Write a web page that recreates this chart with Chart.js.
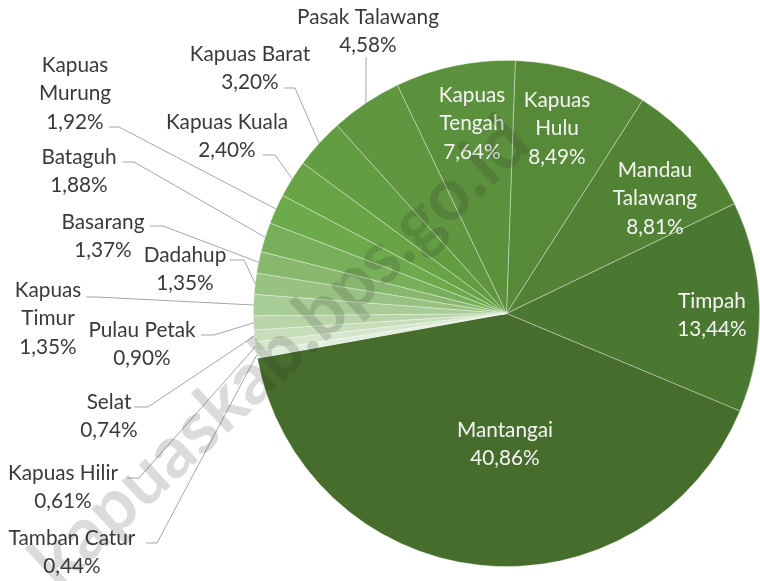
<!DOCTYPE html>
<html>
<head>
<meta charset="utf-8">
<script src="https://cdn.jsdelivr.net/npm/chart.js@4.4.1/dist/chart.umd.min.js"></script>
<style>
  html, body { margin: 0; padding: 0; background: #ffffff; }
  #wrap { width: 760px; height: 581px; position: relative; }
</style>
</head>
<body>
<div id="wrap"><canvas id="c" width="760" height="581"></canvas></div>
<script>
// ---- data ----
const categories = ['Kapuas Hulu','Mandau Talawang','Timpah','Mantangai','Tamban Catur','Kapuas Hilir','Selat','Pulau Petak','Kapuas Timur','Dadahup','Basarang','Bataguh','Kapuas Murung','Kapuas Kuala','Kapuas Barat','Pasak Talawang','Kapuas Tengah'];
const values = [8.49, 8.81, 13.44, 40.86, 0.44, 0.61, 0.74, 0.90, 1.35, 1.35, 1.37, 1.88, 1.92, 2.40, 3.20, 4.58, 7.64];
const nameLines = [['Kapuas','Hulu'],['Mandau','Talawang'],['Timpah'],['Mantangai'],['Tamban Catur'],['Kapuas Hilir'],['Selat'],['Pulau Petak'],['Kapuas','Timur'],['Dadahup'],['Basarang'],['Bataguh'],['Kapuas','Murung'],['Kapuas Kuala'],['Kapuas Barat'],['Pasak Talawang'],['Kapuas','Tengah']];
const watermarkText = 'kapuaskab.bps.go.id';

// ---- styles ----
const colors = ['#578a38','#528334','#4b7830','#466d2b','#e2eedc','#d5e6cc','#c7debb','#b8d5a9','#a8cc95','#98c281','#88b86d','#78af5a','#6daa4c','#68a446','#639d42','#5f963f','#5b903c'];

// label layout (text block centre x, first line y, leader start, elbow); inside labels have no leader
const labelLayout = [
  {x:557, y:100, inside:true},
  {x:655, y:170, inside:true},
  {x:712, y:301, inside:true},
  {x:505, y:430, inside:true},
  {x:72,  y:538, sx:146, sy:543, ex:157},
  {x:63,  y:473, sx:127, sy:478, ex:139},
  {x:109, y:402, sx:134, sy:407, ex:148},
  {x:142, y:330, sx:201, sy:335, ex:214},
  {x:48,  y:290, sx:86,  sy:297, ex:96},
  {x:185, y:255, sx:230, sy:260, ex:244},
  {x:103, y:222, sx:150, sy:226, ex:163},
  {x:79,  y:157, sx:123, sy:162, ex:134},
  {x:75,  y:65,  sx:109, sy:127, ex:119},
  {x:227, y:122, sx:263, sy:155, ex:275},
  {x:250, y:54,  sx:284, sy:88,  ex:295},
  {x:368, y:17,  sx:366, sy:57,  ex:null},
  {x:472, y:95,  inside:true}
];
const lineGap = 28.5;

function fmt(v) { return v.toFixed(2).replace('.', ',') + '%'; }

function fitFont(ctx, family, sample, target, weight) {
  ctx.font = (weight || '') + ' 100px ' + family;
  const w = ctx.measureText(sample).width;
  return 100 * target / w;
}

const labelPlugin = {
  id: 'pieLabels',
  afterDatasetsDraw(chart) {
    const ctx = chart.ctx;
    const meta = chart.getDatasetMeta(0);
    const fam = 'Lato, "Open Sans", sans-serif';
    const fs = fitFont(ctx, fam, 'Kapuas Hilir', 110);
    ctx.save();
    ctx.font = fs.toFixed(2) + 'px ' + fam;
    ctx.textAlign = 'center';
    ctx.textBaseline = 'middle';
    meta.data.forEach((arc, i) => {
      const L = labelLayout[i];
      const lines = nameLines[i].concat([fmt(values[i])]);
      if (L.inside) {
        ctx.fillStyle = '#f4f4f4';
      } else {
        ctx.fillStyle = '#3a3a3a';
        const p = arc.getProps(['x','y','startAngle','endAngle','outerRadius'], true);
        const mid = (p.startAngle + p.endAngle) / 2;
        const tx = p.x + Math.cos(mid) * p.outerRadius;
        const ty = p.y + Math.sin(mid) * p.outerRadius;
        ctx.beginPath();
        ctx.strokeStyle = '#a6a6a6';
        ctx.lineWidth = 1;
        ctx.moveTo(L.sx, L.sy);
        if (L.ex !== null) ctx.lineTo(L.ex, L.sy);
        ctx.lineTo(tx, ty);
        ctx.stroke();
      }
      lines.forEach((t, k) => ctx.fillText(t, L.x, L.y + k * lineGap));
    });
    ctx.restore();
  },
  afterDraw(chart) {
    const ctx = chart.ctx;
    ctx.save();
    const fam = 'Lato, "Open Sans", sans-serif';
    const fs = fitFont(ctx, fam, watermarkText, 650, 'bold');
    ctx.font = 'bold ' + fs.toFixed(1) + 'px ' + fam;
    ctx.translate(280, 352);
    ctx.rotate(-43 * Math.PI / 180);
    ctx.textAlign = 'center';
    ctx.textBaseline = 'middle';
    ctx.fillStyle = 'rgba(40,40,40,0.17)';
    ctx.fillText(watermarkText, 0, 0);
    ctx.restore();
  }
};

new Chart(document.getElementById('c'), {
  type: 'pie',
  data: {
    labels: categories,
    datasets: [{
      data: values,
      backgroundColor: colors,
      borderColor: 'rgba(255,255,255,0.45)',
      borderWidth: 0.8
    }]
  },
  options: {
    responsive: false,
    animation: false,
    devicePixelRatio: 1,
    rotation: 2,
    layout: { padding: { left: 253, right: 0, top: 60, bottom: 14 } },
    plugins: {
      legend: { display: false },
      tooltip: { enabled: false }
    }
  },
  plugins: [labelPlugin]
});
</script>
</body>
</html>
